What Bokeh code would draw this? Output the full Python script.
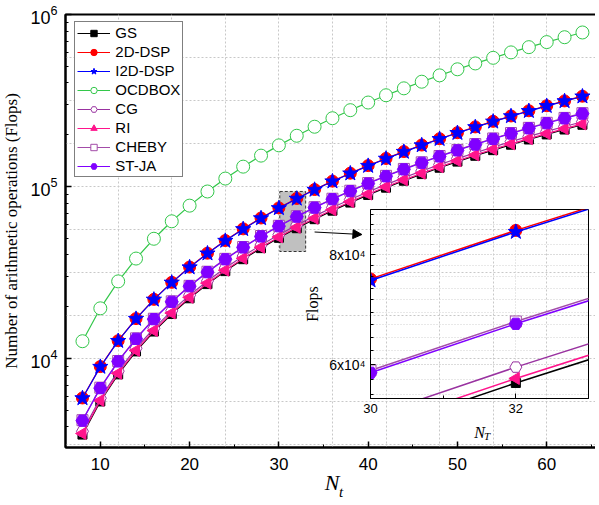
import numpy as np
from bokeh.plotting import figure
from bokeh.layouts import column
from bokeh.models import (FixedTicker, LogTicker, Legend, LegendItem, Arrow,
                          NormalHead, Div)
from bokeh.embed import file_html
from bokeh.resources import INLINE

# ---------------- data ----------------
N = [8, 10, 12, 14, 16, 18, 20, 22, 24, 26, 28, 30, 32, 34, 36, 38, 40,
     42, 44, 46, 48, 50, 52, 54, 56, 58, 60, 62, 64]

GS = [3613, 5630, 8093, 11001, 14355, 18155, 22400, 27091, 32227, 37809,
      43837, 50310, 57229, 64593, 72403, 80659, 89360, 98507, 108099,
      118137, 128621, 139550, 150925, 162745, 175011, 187723, 200880,
      214483, 228531]
DSP2D = [5900, 8980, 12700, 17070, 22080, 27730, 34020, 40960, 48530, 56750,
         65620, 75120, 85270, 96060, 107490, 119560, 132280, 145640, 159640,
         174290, 189570, 205500, 222070, 239290, 257140, 275640, 294780,
         314560, 334990]
I2DDSP = [5876, 8944, 12649, 17002, 21992, 27619, 33884, 40796, 48336, 56523,
          65358, 74820, 84929, 95676, 107060, 119082, 131751, 145057, 159001,
          173593, 188812, 204678, 221182, 238333, 256111, 274537, 293601,
          313302, 333650]
OCDBOX = [12610, 19586, 28092, 38127, 49693, 62788, 77412, 93566, 111249,
          130463, 151206, 173478, 197280, 222611, 249473, 277864, 307784,
          339234, 372213, 406723, 442762, 480330, 519428, 560055, 602213,
          645900, 691116, 737862, 786137]
CG = [3776, 5880, 8448, 11480, 14976, 18936, 23360, 28248, 33600, 39416,
      45696, 52440, 59648, 67320, 75456, 84056, 93120, 102648, 112640,
      123096, 134016, 145400, 157248, 169560, 182336, 195576, 209280,
      223448, 238080]
RI = [3667, 5710, 8203, 11147, 14541, 18385, 22680, 27425, 32621, 38267,
      44363, 50910, 57907, 65355, 73253, 81601, 90400, 99649, 109349,
      119499, 130099, 141150, 152651, 164603, 177005, 189857, 203160,
      216913, 231117]
CHEBY = [4381, 6770, 9677, 13101, 17043, 21501, 26478, 31972, 37984, 44512,
         51559, 59123, 67204, 75803, 84919, 94553, 104704, 115373, 126560,
         138264, 150485, 163224, 176480, 190254, 204545, 219353, 234680,
         250523, 266885]
STJA = [4355, 6730, 9619, 13023, 16941, 21373, 26320, 31781, 37757, 44247,
        51251, 58770, 66803, 75351, 84413, 93989, 104080, 114685, 125805,
        137439, 149587, 162250, 175427, 189119, 203325, 218045, 233280,
        249029, 265293]

labels = ["GS", "2D-DSP", "I2D-DSP", "OCDBOX", "CG", "RI", "CHEBY", "ST-JA"]
values = [GS, DSP2D, I2DDSP, OCDBOX, CG, RI, CHEBY, STJA]

x_ticks = [10, 20, 30, 40, 50, 60]
x_minor = [15, 25, 35, 45, 55, 65]
inset_x_ticks = [30, 32]
inset_y_ticks = [60000, 80000]
inset_y_labels = {60000: "6x10\u2074", 80000: "8x10\u2074"}

# zoom region marked on the main plot and arrow to the inset
zoom_box = dict(left=30.1, right=33.0, bottom=41900, top=93600)
arrow_pts = dict(x_start=34.0, y_start=54400, x_end=39.3, y_end=52600)

# ---------------- styles ----------------
styles = [
    dict(marker="square", color="black", fill="black", size=9, angle=0.0),
    dict(marker="circle", color="#ff0000", fill="#ff0000", size=12, angle=0.0),
    dict(marker="star", color="#0000ff", fill="#0000ff", size=16, angle=0.0),
    dict(marker="circle", color="#33c74a", fill="white", size=13, angle=0.0),
    dict(marker="hex", color="#9932a0", fill="white", size=12, angle=0.0),
    dict(marker="triangle", color="#ff148c", fill="#ff148c", size=12, angle=np.pi / 2),
    dict(marker="square", color="#a34ca8", fill="white", size=11, angle=0.0),
    dict(marker="hex", color="#8000ff", fill="#8000ff", size=13, angle=0.0),
]

SANS = "Liberation Sans"
SERIF = "Liberation Serif"
GRID = "#c8c8c8"

# ---------------- main figure ----------------
p = figure(frame_width=534, frame_height=433, x_range=(6.1, 65.8),
           y_range=(3040, 1e6), y_axis_type="log",
           output_backend="svg", toolbar_location=None,
           min_border_left=65, min_border_right=0, min_border_top=14,
           min_border_bottom=58)
p.background_fill_color = "white"
p.border_fill_color = "white"
p.outline_line_color = "black"
p.outline_line_width = 2

p.xgrid.ticker = FixedTicker(ticks=[6, 12, 18, 24, 30, 36, 42, 48, 54, 60])
p.ygrid.ticker = FixedTicker(ticks=[10 ** (k / 4) for k in range(13, 25)])
for g in (p.xgrid, p.ygrid):
    g.grid_line_color = GRID
    g.grid_line_dash = "2 2"
    g.grid_line_width = 1

xa = p.xaxis[0]
xa.ticker = FixedTicker(ticks=x_ticks, minor_ticks=x_minor)
ya = p.yaxis[0]
ya.ticker = LogTicker(num_minor_ticks=10)
for ax in (xa, ya):
    ax.axis_line_width = 2
    ax.axis_line_color = "black"
    ax.major_tick_in = 6
    ax.major_tick_out = 0
    ax.minor_tick_in = 3
    ax.minor_tick_out = 0
    ax.major_tick_line_width = 1.5
    ax.minor_tick_line_width = 1
    ax.major_label_text_font = SANS
    ax.major_label_text_color = "black"
    ax.axis_label_text_font = SERIF
    ax.axis_label_text_font_style = "normal"
    ax.axis_label_text_color = "black"
xa.major_label_text_font_size = "17px"
ya.major_label_text_font_size = "18px"
xa.major_label_standoff = 10
ya.major_label_standoff = 8
xa.axis_label = "N"
xa.axis_label_text_font_style = "italic"
xa.axis_label_text_font_size = "22px"
xa.axis_label_standoff = -3
ya.axis_label = "Number of arithmetic operations (Flops)"
ya.axis_label_text_font_size = "17px"
ya.axis_label_standoff = 6

# zoom box
p.quad(left=[zoom_box["left"]], right=[zoom_box["right"]],
       bottom=[zoom_box["bottom"]], top=[zoom_box["top"]],
       fill_color="#c0c0c0", line_color="#333333", line_dash="3 2",
       line_width=1)

items = []
for lab, vals, st in zip(labels, values, styles):
    lr = p.line(N, vals, line_color=st["color"], line_width=1.2)
    sr = p.scatter(N, vals, marker=st["marker"], size=st["size"],
                   angle=st["angle"], line_color=st["color"],
                   fill_color=st["fill"], line_width=1)
    items.append(LegendItem(label=lab, renderers=[lr, sr]))

legend = Legend(items=items, location=(13, 270))
legend.label_text_font = SANS
legend.label_text_font_size = "15px"
legend.label_text_color = "black"
legend.glyph_width = 33
legend.glyph_height = 16
legend.label_height = 16
legend.label_standoff = 5
legend.spacing = 2
legend.padding = 2
legend.margin = 0
legend.border_line_color = "black"
legend.border_line_width = 1
legend.background_fill_color = "white"
legend.background_fill_alpha = 1
p.add_layout(legend)

p.add_layout(Arrow(end=NormalHead(size=9, fill_color="black", line_color="black"),
                   line_width=1, line_color="black", **arrow_pts))

# ---------------- inset ----------------
IL, IT = 70, 4
q = figure(frame_width=218, frame_height=189, x_range=(30, 33),
           y_range=(54950, 90060), y_axis_type="log",
           output_backend="svg", toolbar_location=None,
           min_border_left=IL, min_border_right=4, min_border_top=IT,
           min_border_bottom=48)
q.background_fill_alpha = 0
q.border_fill_alpha = 0
q.outline_line_color = "black"
q.outline_line_width = 1

inset_minor = [55556 + 2222.22 * k for k in range(16)]
q.xgrid.ticker = FixedTicker(ticks=[30, 32])
q.ygrid.ticker = FixedTicker(ticks=inset_y_ticks, minor_ticks=inset_minor)
q.ygrid.minor_grid_line_color = "#d0d0d0"
q.ygrid.minor_grid_line_dash = "1 2"
for g in (q.xgrid, q.ygrid):
    g.grid_line_color = "#d0d0d0"
    g.grid_line_dash = "1 2"

qx = q.xaxis[0]
qy = q.yaxis[0]
qx.ticker = FixedTicker(ticks=inset_x_ticks, minor_ticks=[31, 33])
qy.ticker = FixedTicker(ticks=inset_y_ticks, minor_ticks=inset_minor)
qy.major_label_overrides = inset_y_labels
for ax in (qx, qy):
    ax.axis_line_color = "black"
    ax.axis_line_width = 1
    ax.major_tick_in = 5
    ax.major_tick_out = 0
    ax.minor_tick_in = 3
    ax.minor_tick_out = 0
    ax.major_label_text_font = SANS
    ax.major_label_text_color = "black"
    ax.axis_label_text_font = SERIF
    ax.axis_label_text_color = "black"
qx.major_label_text_font_size = "13px"
qy.major_label_text_font_size = "14px"
qx.major_label_standoff = 5
qy.major_label_standoff = 5
qx.axis_label = "N"
qx.axis_label_text_font_style = "italic"
qx.axis_label_text_font_size = "16px"
qx.axis_label_standoff = 8
qy.axis_label = "Flops"
qy.axis_label_text_font_style = "normal"
qy.axis_label_text_font_size = "16px"
qy.axis_label_standoff = 5

for lab, vals, st in zip(labels, values, styles):
    q.line(N, vals, line_color=st["color"], line_width=1.5)
    q.scatter(N, vals, marker=st["marker"], size=st["size"], angle=st["angle"],
              line_color=st["color"], fill_color=st["fill"], line_width=1)

# both figures placed absolutely in the same container
p.margin = (0, 0, 0, 0)
q.margin = (0, 0, 0, 0)
p.styles = {"position": "absolute", "left": "-5px", "top": "0px", "z-index": "1"}
q.styles = {"position": "absolute", "left": f"{370 - IL}px",
            "top": f"{209 - IT}px", "z-index": "10"}

# subscripts of the two x labels (HTML text overlays)
sub_css = {"position": "absolute", "font-family": SERIF, "font-style": "italic",
           "color": "black", "line-height": "1", "z-index": "20",
           "margin": "0", "padding": "0"}
sub_main = Div(text="t", margin=(0, 0, 0, 0),
               styles=dict(sub_css, left="339px", top="485px",
                           **{"font-size": "15px"}))
sub_inset = Div(text="T", margin=(0, 0, 0, 0),
                styles=dict(sub_css, left="484px", top="431px",
                            **{"font-size": "11px"}))

layout = column(p, q, sub_main, sub_inset, margin=(0, 0, 0, 0))
layout.styles = {"position": "relative", "width": "599px", "height": "505px",
                 "padding": "0", "margin": "0", "overflow": "hidden"}

open("out.html", "w").write(file_html(layout, INLINE))
